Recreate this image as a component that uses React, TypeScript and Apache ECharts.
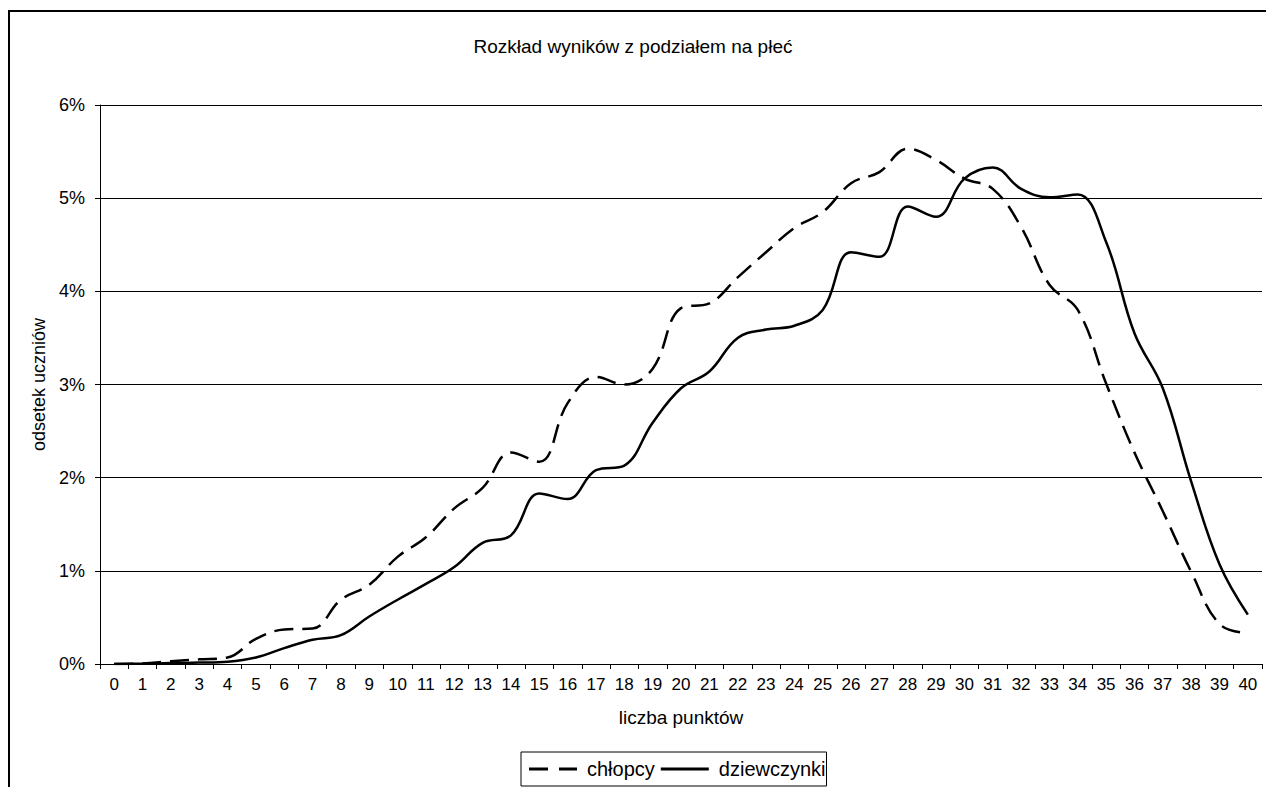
import React, { useEffect, useRef } from "react";
import * as echarts from "echarts";

const categories: string[] = [
  "0","1","2","3","4","5","6","7","8","9","10","11","12","13","14","15","16","17","18","19","20",
  "21","22","23","24","25","26","27","28","29","30","31","32","33","34","35","36","37","38","39","40",
];

const chlopcy: number[] = [
  0, 0.005, 0.03, 0.05, 0.07, 0.27, 0.37, 0.38, 0.69, 0.85, 1.15, 1.36, 1.67, 1.89, 2.27, 2.17,
  2.8, 3.08, 3.0, 3.17, 3.82, 3.87, 4.15, 4.42, 4.68, 4.85, 5.16, 5.28, 5.53, 5.41, 5.21, 5.1,
  4.69, 4.07, 3.8, 3.01, 2.27, 1.64, 0.99, 0.43, 0.33,
];

const dziewczynki: number[] = [
  0, 0.003, 0.01, 0.015, 0.025, 0.07, 0.17, 0.26, 0.31, 0.51, 0.69, 0.86, 1.04, 1.3, 1.38, 1.83,
  1.77, 2.08, 2.13, 2.59, 2.96, 3.14, 3.5, 3.59, 3.63, 3.8, 4.42, 4.37, 4.91, 4.8, 5.21, 5.33,
  5.1, 5.01, 5.04, 4.53, 3.55, 2.96, 1.96, 1.07, 0.53,
];

const seriesNames = ["chłopcy", "dziewczynki"];
const titleText = "Rozkład wyników z podziałem na płeć";
const xName = "liczba punktów";
const yName = "odsetek uczniów";

const FONT = "'Liberation Sans', Arial, sans-serif";

const DASH_ICON = "path://M0,0 h19 v3 h-19 Z M30,0 h18 v3 h-18 Z";
const SOLID_ICON = "path://M0,0 h48 v3 h-48 Z";

export default function App() {
  const ref = useRef<HTMLDivElement>(null);
  useEffect(() => {
    if (!ref.current) return;
    const chart = echarts.init(ref.current, undefined, { renderer: "svg" });
    chart.setOption({
      animation: false,
      backgroundColor: "#fff",
      textStyle: { fontFamily: FONT, color: "#000" },
      title: {
        text: titleText,
        left: "center",
        top: 32,
        textStyle: { fontFamily: FONT, fontSize: 19, fontWeight: "normal", color: "#000" },
      },
      graphic: [
        {
          type: "rect",
          shape: { x: 9, y: 11, width: 1400, height: 1000 },
          style: { fill: "none", stroke: "#000", lineWidth: 2 },
          silent: true,
        },
      ],
      legend: {
        left: 521,
        top: 752,
        orient: "horizontal",
        padding: [7, 1, 7, 8],
        itemWidth: 48,
        itemHeight: 3,
        itemGap: 6,
        borderColor: "#000",
        borderWidth: 1,
        textStyle: { fontFamily: FONT, fontSize: 20, color: "#000", padding: [0, 0, 0, 5] },
        data: [
          { name: seriesNames[0], icon: DASH_ICON, itemStyle: { color: "#000" } },
          { name: seriesNames[1], icon: SOLID_ICON, itemStyle: { color: "#000" } },
        ],
      },
      grid: { left: 100, right: 4, top: 105, bottom: 123, containLabel: false },
      xAxis: {
        type: "category",
        data: categories,
        boundaryGap: true,
        name: xName,
        nameLocation: "middle",
        nameGap: 44,
        nameTextStyle: { fontFamily: FONT, fontSize: 19, color: "#000" },
        axisLine: { lineStyle: { color: "#000", width: 1 } },
        axisTick: { show: true, length: 5, alignWithLabel: false, lineStyle: { color: "#000" } },
        axisLabel: { interval: 0, fontFamily: FONT, fontSize: 17, color: "#000", margin: 12 },
        splitLine: { show: false },
      },
      yAxis: {
        type: "value",
        min: 0,
        max: 6,
        interval: 1,
        name: yName,
        nameLocation: "middle",
        nameGap: 52,
        nameRotate: 90,
        nameTextStyle: { fontFamily: FONT, fontSize: 18, color: "#000" },
        axisLine: { show: true, lineStyle: { color: "#000", width: 1 } },
        axisTick: { show: true, length: 5, inside: false, lineStyle: { color: "#000" } },
        axisLabel: { formatter: "{value}%", fontFamily: FONT, fontSize: 18, color: "#000", margin: 15 },
        splitLine: { show: true, lineStyle: { color: "#000", width: 1 } },
      },
      series: [
        {
          name: seriesNames[0],
          type: "line",
          data: chlopcy,
          smooth: 0.4,
          symbol: "none",
          showSymbol: false,
          lineStyle: { color: "#000", width: 2.5, type: [19, 9] },
          itemStyle: { color: "#000" },
        },
        {
          name: seriesNames[1],
          type: "line",
          data: dziewczynki,
          smooth: 0.4,
          symbol: "none",
          showSymbol: false,
          lineStyle: { color: "#000", width: 2.5, type: "solid" },
          itemStyle: { color: "#000" },
        },
      ],
    });
    return () => chart.dispose();
  }, []);
  return (
    <div
      ref={ref}
      style={{ position: "absolute", left: 0, top: 0, width: 1266, height: 787, background: "#fff" }}
    />
  );
}
